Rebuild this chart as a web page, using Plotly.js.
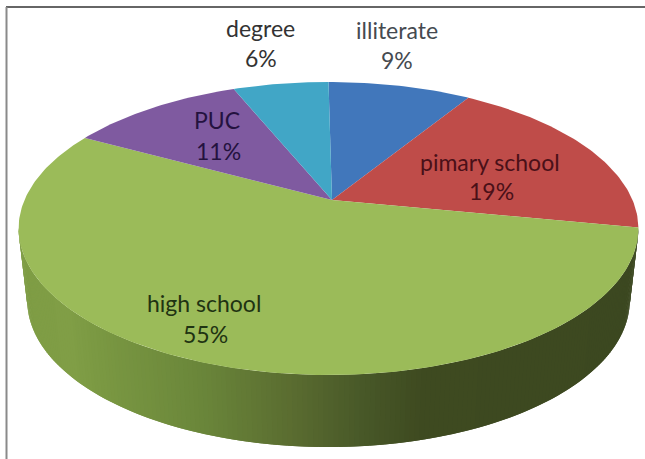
<!DOCTYPE html>
<html>
<head>
<meta charset="utf-8">
<script src="https://cdn.plot.ly/plotly-3.0.1.min.js"></script>
<style>html,body{margin:0;padding:0;background:#fff;overflow:hidden}</style>
</head>
<body>
<div id="chart" style="width:645px;height:459px"></div>
<script>
const categories = ["illiterate", "pimary school", "high school", "PUC", "degree"];
const shares = [9, 19, 55, 11, 6];
const sliceColors = ["#4177bb", "#bf4c49", "#9bbb59", "#7f5aa0", "#41a6c6"];
const textColors = ["#454a50", "#4a1018", "#1f3312", "#24123f", "#333333"];
const nameAt = [[397, 30], [490, 162], [204, 303], [217, 120], [260, 28]];
const pctAt = [[397, 60], [491, 191], [205, 334], [218, 151], [261, 58]];

// perspective of the tilted disc, in picture pixels
const apex = {x: 332, y: 200};
const rimX = 328.5;
const radiusX = 304, radiusY = 141, tilt = 0.1945, wallDepth = 72, wallInset = 0.972;
const project = (deg, drop = 0, scale = 1) => {
  const t = deg * Math.PI / 180, d = 1 + tilt * Math.cos(t);
  return [rimX + scale * radiusX * Math.sin(t) / d, apex.y - radiusY * Math.cos(t) / d + drop];
};
// wall shading: screen x → colour
const wallStops = [[18, [126,156,68]], [70, [128,158,70]], [100, [122,152,66]], [200, [106,134,58]], [290, [90,108,48]], [360, [72,88,40]], [420, [62,74,32]], [640, [60,72,32]]];
const wallColor = x => {
  for (let i = 1; i < wallStops.length; i++) {
    const [x0, c0] = wallStops[i - 1], [x1, c1] = wallStops[i];
    if (x <= x1) {
      const f = Math.max(0, (x - x0) / (x1 - x0));
      return "rgb(" + c0.map((v, j) => Math.round(v + (c1[j] - v) * f)).join(",") + ")";
    }
  }
  return "rgb(60,72,32)";
};

const traces = [];
const bounds = [0];
shares.forEach(v => bounds.push(bounds[bounds.length - 1] + v * 3.6));

// side wall of the high school slice, front half only
const wallFrom = bounds[2], wallTo = 259, wallStep = 0.8;
for (let a = wallFrom; a < wallTo; a += wallStep) {
  const b = Math.min(a + wallStep + 0.8, wallTo);
  const xs = [], ys = [];
  [[a, 0, 1], [b, 0, 1], [b, wallDepth, wallInset], [a, wallDepth, wallInset]].forEach(([d, h, s]) => {
    const p = project(d, h, s); xs.push(p[0]); ys.push(p[1]);
  });
  xs.push(xs[0]); ys.push(ys[0]);
  traces.push({type: "scatter", mode: "lines", x: xs, y: ys, fill: "toself",
    fillcolor: wallColor((xs[0] + xs[2]) / 2), line: {width: 0}, hoverinfo: "skip", showlegend: false});
}

// top surface slices
categories.forEach((name, i) => {
  const xs = [apex.x], ys = [apex.y];
  for (let d = bounds[i]; d < bounds[i + 1]; d += 1) {
    const p = project(d); xs.push(p[0]); ys.push(p[1]);
  }
  const e = project(bounds[i + 1]); xs.push(e[0], apex.x); ys.push(e[1], apex.y);
  traces.push({type: "scatter", mode: "lines", name, x: xs, y: ys, fill: "toself",
    fillcolor: sliceColors[i], line: {width: 0}, hoverinfo: "name", showlegend: false});
});

// labels
const annotations = [];
const labelFont = "Lato, 'Open Sans', sans-serif";
categories.forEach((name, i) => {
  annotations.push({x: nameAt[i][0], y: nameAt[i][1], xref: "x", yref: "y", text: name, showarrow: false,
    font: {family: labelFont, size: 23, color: textColors[i]}});
  annotations.push({x: pctAt[i][0], y: pctAt[i][1], xref: "x", yref: "y", text: shares[i] + "%", showarrow: false,
    font: {family: labelFont, size: 23, color: textColors[i]}});
});

const layout = {
  width: 645, height: 459,
  margin: {l: 0, r: 0, t: 0, b: 0},
  paper_bgcolor: "#ffffff", plot_bgcolor: "#ffffff",
  xaxis: {range: [0, 645], visible: false, fixedrange: true},
  yaxis: {range: [459, 0], visible: false, fixedrange: true},
  showlegend: false,
  annotations,
  shapes: [
    {type: "line", xref: "x", yref: "y", x0: 6, x1: 645, y0: 7, y1: 7, line: {color: "#333333", width: 1.5}},
    {type: "line", xref: "x", yref: "y", x0: 6.5, x1: 6.5, y0: 7, y1: 459, line: {color: "#8a8a8a", width: 2}}
  ]
};
Plotly.newPlot("chart", traces, layout, {displayModeBar: false, staticPlot: true});
</script>
</body>
</html>
